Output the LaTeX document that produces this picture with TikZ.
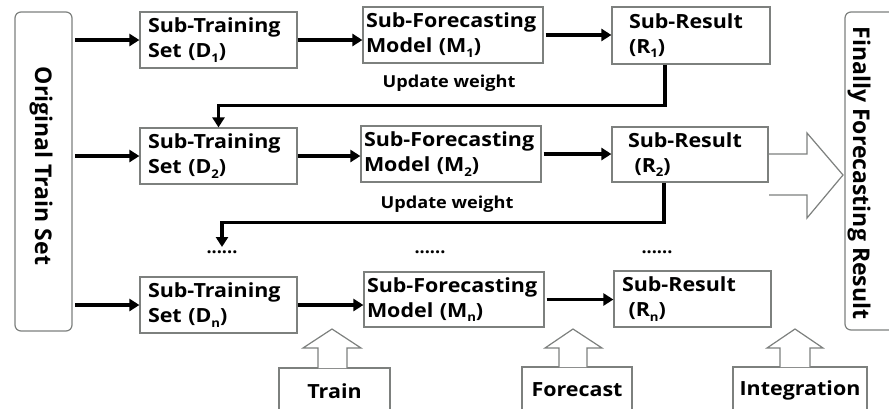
\documentclass[tikz,border=0pt]{standalone}
\usepackage{fontspec}
\setmainfont{Open Sans}
\newfontfamily\widefont{Open Sans}[FakeStretch=1.1]
\usetikzlibrary{arrows.meta}
\definecolor{frame}{RGB}{125,128,126}
\newcommand\sbx[1]{\raisebox{-0.22em}{\fontsize{12}{12}\selectfont #1}}
\tikzset{
  box/.style={draw=frame, line width=1.2pt, rectangle, align=left,
    font=\widefont\fontsize{19.5}{25}\selectfont\bfseries, inner ysep=0pt},
  model/.style={box, minimum width=180pt, text width=174pt, inner xsep=3pt},
  tall/.style={draw=frame, line width=1.2pt, rounded corners=6pt},
  vlabel/.style={font=\fontsize{23}{23}\selectfont\bfseries, rotate=-90},
  arr/.style={line width=3.2pt, -{Triangle[length=10pt,width=12pt]}},
  hollow/.style={draw=frame, line width=1.2pt, fill=white, line join=miter},
  note/.style={font=\widefont\fontsize{16.5}{16.5}\selectfont\bfseries},
  dots/.style={font=\fontsize{18}{18}\selectfont\bfseries},
}
\begin{document}
\begin{tikzpicture}[x=1pt, y=-1pt]
\useasboundingbox (0,0) rectangle (889,408);
\clip (0,0) rectangle (889,408);

% outer input and output frames
\draw[tall] (15,12) rectangle (72,331);
\node[vlabel] (O) at (41,166) {Original Train Set};
\coordinate (Oe) at (75,171);
\draw[tall] (845,12) rectangle (900,330);
\node[vlabel] (F) at (859,173) {Finally Forecasting Result};

% first round
\node[box, minimum width=157pt, minimum height=56pt, text width=141pt] (D1) at (218.5,40) {Sub-Training\\Set (D\sbx{1})};
\node[model, minimum height=56pt] (M1) at (453,35) {Sub-Forecasting\\Model (M\sbx{1})};
\node[box, minimum width=158pt, minimum height=57pt, text width=124pt] (R1) at (691,35.5) {Sub-Result\\(R\sbx{1})};

% second round
\node[box, minimum width=157pt, minimum height=56pt, text width=141pt] (D2) at (218.5,156) {Sub-Training\\Set (D\sbx{2})};
\node[model, minimum height=56pt] (M2) at (451,154) {Sub-Forecasting\\Model (M\sbx{2})};
\node[box, minimum width=156pt, minimum height=55pt, text width=124pt] (R2) at (690,154.5) {Sub-Result\\\ (R\sbx{2})};

% last round
\node[box, minimum width=157pt, minimum height=56pt, text width=141pt] (Dn) at (218.5,305) {Sub-Training\\Set (D\sbx{n})};
\node[model, minimum height=55pt] (Mn) at (454,299.5) {Sub-Forecasting\\Model (M\sbx{n})};
\node[box, minimum width=157pt, minimum height=56pt, text width=141pt] (Rn) at (692.5,299) {Sub-Result\\\ (R\sbx{n})};

% ellipses marking the omitted rounds
\node[dots] (e1) at (222,252) {......};
\node[dots] (e2) at (430,252) {......};
\node[dots] (e3) at (657,252) {......};
\coordinate (e1top) at (222,247);

% weight update labels
\node[note] (u1) at (449,83) {Update weight};
\node[note] (u2) at (447,204) {Update weight};

% data flow
\draw[arr] (Oe |- D1) -- (D1.west);
\draw[arr] (Oe |- D2) -- (D2.west);
\draw[arr] (Oe |- Dn) -- (Dn.west);
\draw[arr] (D1.east) -- (D1.east -| M1.west);
\draw[arr] (D2.east) -- (D2.east -| M2.west);
\draw[arr] (Dn.east) -- (Dn.east -| Mn.west);
\draw[arr] ([xshift=2pt]M1.east) -- (M1.east -| R1.west);
\draw[arr] ([xshift=2pt]M2.east) -- (M2.east -| R2.west);
\draw[arr] ([xshift=2pt]Mn.east) -- (Mn.east -| Rn.west);

% feedback from each result to the next training set
\draw[arr] ([xshift=-26pt]R1.south) -- ++(0,41) -| (D2.north);
\draw[arr] ([xshift=-26pt]R2.south) -- ++(0,40) -| (e1top);

% integration arrow into the final result
\draw[hollow] (769,154) -- (807,154) -- (807,133) -- (843,175) -- (807,218) -- (807,195) -- (769,195);

% stage labels with hollow arrows
\node[box, minimum width=111pt, minimum height=46pt, align=center, inner xsep=0pt] (T) at (334.5,391) {Train};
\node[box, minimum width=110pt, minimum height=46pt, align=center, inner xsep=0pt] (Fc) at (577,390) {Forecast};
\node[box, minimum width=134pt, minimum height=46pt, align=center, inner xsep=0pt] (I) at (800,390) {Integration};
\draw[hollow] (318,368) -- (318,348) -- (303,348) -- (332,329) -- (361,348) -- (347,348) -- (347,368);
\draw[hollow] (559,367) -- (559,348) -- (545,348) -- (573,329) -- (602,348) -- (587,348) -- (587,367);
\draw[hollow] (780,367) -- (780,348) -- (767,348) -- (795,329) -- (823,348) -- (810,348) -- (810,367);
\end{tikzpicture}
\end{document}
